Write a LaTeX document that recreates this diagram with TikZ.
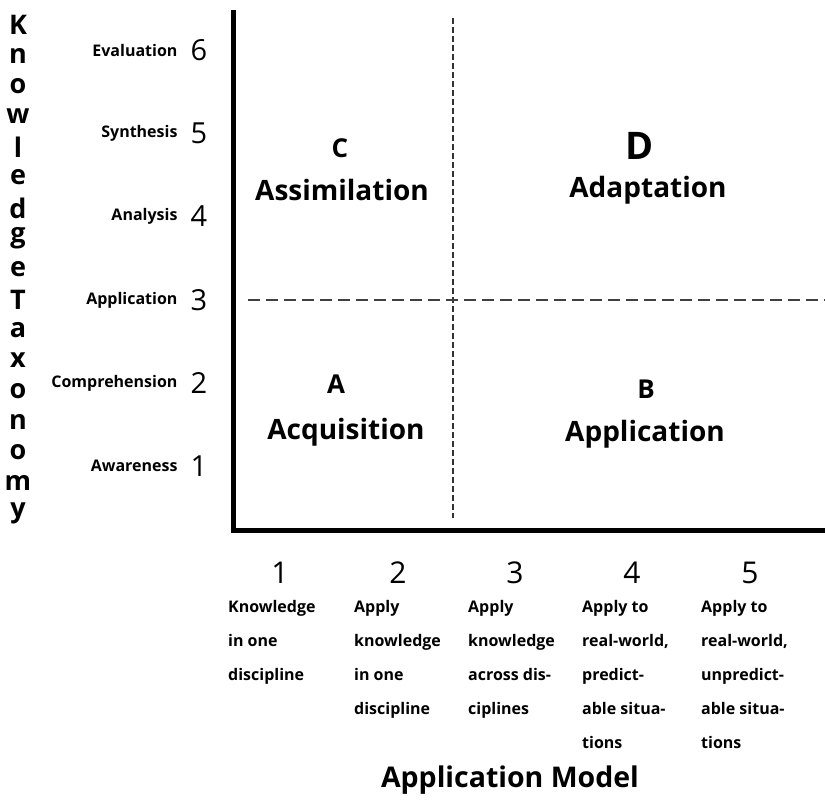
\documentclass[tikz,border=0pt]{standalone}
\usepackage{fontspec}
\setmainfont{Open Sans}
\begin{document}
\begin{tikzpicture}[x=1pt,y=-1pt,
  axis/.style={line width=5pt},
  hdash/.style={line width=1.8pt, dash pattern=on 12pt off 6pt, black!75},
  vdash/.style={line width=1.1pt, dash pattern=on 6pt off 3pt, black!80},
  quad/.style={font=\fontsize{28}{30}\selectfont\bfseries},
  quadletter/.style={font=\fontsize{26}{28}\selectfont\bfseries},
  ylab/.style={anchor=east, font=\fontsize{16}{18}\selectfont\bfseries},
  ynum/.style={font=\fontsize{29}{30}\selectfont},
  xnum/.style={font=\fontsize{30}{32}\selectfont},
  xdesc/.style={anchor=north west, align=left, inner sep=0pt, font=\fontsize{16}{34}\selectfont\bfseries},
  vletter/.style={font=\fontsize{27}{28}\selectfont\bfseries},
  title/.style={font=\fontsize{28.5}{30}\selectfont\bfseries}]
\useasboundingbox (0,0) rectangle (825,801);
% axes
\coordinate (top) at (233,10);
\coordinate (origin) at (233,530);
\coordinate (right) at (825,530);
\draw[axis] (top) -- (origin) -- (right);
% dashed dividers
\coordinate (vt) at (453,18);
\coordinate (vb) at (453,518);
\coordinate (hl) at (248,300);
\coordinate (hr) at (825,300);
\draw[vdash] (vt) -- (vb);
\draw[hdash] (hl) -- (hr);
% quadrants
\node[quadletter] (qC) at (340,148) {C};
\node[quad] (qCt) at (342,190) {Assimilation};
\node[quadletter, font=\fontsize{38}{40}\selectfont\bfseries] (qD) at (640,146) {D};
\node[quad] (qDt) at (648,190) {Adaptation};
\node[quadletter] (qA) at (336,384) {A};
\node[quad] (qAt) at (346,432) {Acquisition};
\node[quadletter] (qB) at (646,389) {B};
\node[quad] (qBt) at (645,434) {Application};
% y axis labels
\node[ynum] (y6) at (199,50) {6};
\node[ynum] (y5) at (199,133) {5};
\node[ynum] (y4) at (199,216) {4};
\node[ynum] (y3) at (199,300) {3};
\node[ynum] (y2) at (199,383) {2};
\node[ynum] (y1) at (199,466) {1};
\node[ylab] (l6) at (181,50) {Evaluation};
\node[ylab] (l5) at (181,133) {Synthesis};
\node[ylab] (l4) at (181,216) {Analysis};
\node[ylab] (l3) at (181,300) {Application};
\node[ylab] (l2) at (181,383) {Comprehension};
\node[ylab] (l1) at (181,466) {Awareness};
% vertical title
\foreach \ch [count=\i] in {K,n,o,w,l,e,d,g,e,T,a,x,o,n,o,m,y}{
  \node[vletter] (vt\i) at (18,{25+(\i-1)*30.5}) {\ch};
}
% x axis numbers
\node[xnum] (x1) at (280,573) {1};
\node[xnum] (x2) at (398,573) {2};
\node[xnum] (x3) at (515,573) {3};
\node[xnum] (x4) at (632,573) {4};
\node[xnum] (x5) at (750,573) {5};
\node[xdesc] (d1) at (228,600) {Knowledge\\in one\\discipline};
\node[xdesc] (d2) at (354,600) {Apply\\knowledge\\in one\\discipline};
\node[xdesc] (d3) at (468,600) {Apply\\knowledge\\across dis-\\ciplines};
\node[xdesc] (d4) at (582,600) {Apply to\\real-world,\\predict-\\able situa-\\tions};
\node[xdesc] (d5) at (701,600) {Apply to\\real-world,\\unpredict-\\able situa-\\tions};
\node[title] (xt) at (510,780) {Application Model};
\end{tikzpicture}
\end{document}
